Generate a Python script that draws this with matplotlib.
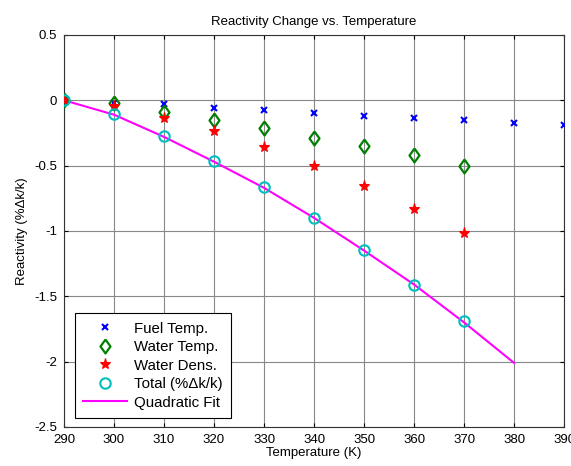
import matplotlib

matplotlib.use("Agg")
import matplotlib.pyplot as plt

plt.rcParams["font.family"] = ["Liberation Sans", "DejaVu Sans"]
plt.rcParams["axes.unicode_minus"] = False

# Temperatures (K)
temp_fuel = [290, 300, 310, 320, 330, 340, 350, 360, 370, 380, 390]
fuel_temp = [0.0, -0.023, -0.03, -0.057, -0.074, -0.10, -0.118, -0.135, -0.15, -0.17, -0.19]

temp_water = [290, 300, 310, 320, 330, 340, 350, 360, 370]
water_temp = [0.0, -0.018, -0.09, -0.148, -0.21, -0.286, -0.35, -0.42, -0.50]
water_dens = [0.0, -0.044, -0.133, -0.235, -0.36, -0.50, -0.656, -0.834, -1.018]
total = [0.0, -0.105, -0.273, -0.462, -0.66, -0.90, -1.148, -1.41, -1.686]

temp_fit = [290, 300, 310, 320, 330, 340, 350, 360, 370, 380]
quad_fit = [0.0, -0.11, -0.28, -0.47, -0.67, -0.90, -1.15, -1.41, -1.70, -2.01]

xticks = list(range(290, 391, 10))
yticks = [0.5, 0, -0.5, -1, -1.5, -2, -2.5]
ytick_labels = ["0.5", "0", "-0.5", "-1", "-1.5", "-2", "-2.5"]

# MATLAB-style diamond (a bit taller than wide)
diamond = [(0, 1), (0.72, 0), (0, -1), (-0.72, 0), (0, 1)]

fig = plt.figure(figsize=(5.71, 4.66), dpi=100)
ax = fig.add_axes([0.112, 0.0837, 0.876, 0.8413])

ax.plot(temp_fuel, fuel_temp, ls="none", marker="x", color="#0000ff",
        ms=4, mew=1.5, label="Fuel Temp.", zorder=4)
ax.plot(temp_water, water_temp, ls="none", marker=diamond, mfc="none",
        mec="#008000", ms=10, mew=1.6, label="Water Temp.", zorder=4)
ax.plot(temp_water, water_dens, ls="none", marker="*", color="#ff0000",
        ms=8, mew=0.8, label="Water Dens.", zorder=4)
ax.plot(temp_water, total, ls="none", marker="o", mfc="none",
        mec="#00bfbf", ms=7.5, mew=1.5, label="Total (%\u0394k/k)", zorder=5)
ax.plot(temp_fit, quad_fit, color="#ff00ff", lw=1.5, label="Quadratic Fit",
        zorder=3)

ax.set_xlim(290, 390)
ax.set_ylim(-2.5, 0.5)
ax.set_xticks(xticks)
ax.set_yticks(yticks)
ax.set_yticklabels(ytick_labels)
ax.tick_params(direction="in", top=True, right=True, labelsize=9.5,
               length=3, pad=5)
ax.grid(True, color="#888888", lw=0.8)
for s in ax.spines.values():
    s.set_color("#333333")
    s.set_linewidth(0.8)

ax.set_title("Reactivity Change vs. Temperature", fontsize=9.5, pad=7)
ax.set_xlabel("Temperature (K)", fontsize=9.5, labelpad=1)
ax.set_ylabel("Reactivity (%\u0394k/k)", fontsize=9.5, labelpad=4)

leg = ax.legend(loc="lower left", bbox_to_anchor=(0.004, 0.0),
                fontsize=10.8, handlelength=2.9, handletextpad=0.5,
                labelspacing=0.3, borderpad=0.55, borderaxespad=0.6,
                fancybox=False, framealpha=1, edgecolor="black")
leg.get_frame().set_linewidth(0.8)

fig.savefig("out.png", dpi=100)
